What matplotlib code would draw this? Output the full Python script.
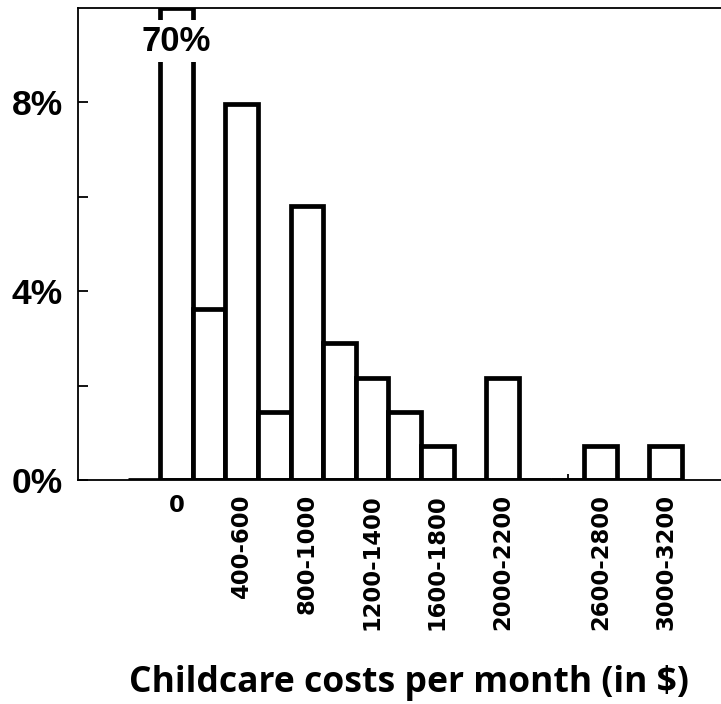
import matplotlib
matplotlib.use("Agg")
import matplotlib.pyplot as plt
import numpy as np

# Data (percent of respondents per bin)
bins = ["0", "1-400", "400-600", "600-800", "800-1000", "1000-1200", "1200-1400",
        "1400-1600", "1600-1800", "1800-2000", "2000-2200", "2200-2400",
        "2400-2600", "2600-2800", "2800-3000", "3000-3200"]
percent = [70.0, 3.62, 7.97, 1.45, 5.8, 2.9, 2.17, 1.45, 0.72, 0.0, 2.17,
           0.0, 0.0, 0.72, 0.0, 0.72]
shown_labels = ["0", "400-600", "800-1000", "1200-1400", "1600-1800",
                "2000-2200", "2600-2800", "3000-3200"]
yticks = [0, 4, 8]
ytick_labels = ["0%", "4%", "8%"]
ymax = 10
xlabel = "Childcare costs per month (in $)"

fig = plt.figure(figsize=(7.21, 7.04), dpi=100)
ax = fig.add_axes([78/721, 1-480/704, 1-78/721, (480-8)/704])

x = np.arange(len(bins))
heights = np.minimum(np.array(percent), ymax)
ax.bar(x, heights, width=1.0, facecolor="white", edgecolor="black",
       linewidth=3.4, zorder=3, clip_on=True)
ax.hlines(0, -1.5, len(bins) - 0.5, color="black", linewidth=3.4, zorder=4)

# clipped bar label
ax.text(0, 9.3, f"{percent[0]:.0f}%", ha="center", va="center",
        fontsize=25, fontweight="bold", family="Liberation Sans",
        bbox=dict(facecolor="white", edgecolor="none", pad=3), zorder=5)

ax.set_xlim(-3.02, 16.7)
ax.set_ylim(0, ymax)

ax.spines["right"].set_visible(False)
for s in ["top", "left", "bottom"]:
    ax.spines[s].set_linewidth(1.3)

# y ticks
ax.set_yticks(yticks)
ax.set_yticklabels(ytick_labels, fontsize=25.5, fontweight="bold", family="Liberation Sans")
ax.set_yticks([2, 6], minor=True)
ax.tick_params(axis="y", which="both", direction="in", length=7, width=1.3, pad=11)

# x ticks: labels at chosen bins, small tick marks at 500/1500/2500
label_pos = [bins.index(l) for l in shown_labels]
ax.set_xticks(label_pos)
ax.set_xticklabels(shown_labels, fontsize=16.3, fontweight="bold", family="DejaVu Sans")
for lab in ax.get_xticklabels():
    if lab.get_text() != "0":
        lab.set_rotation(90)
ax.tick_params(axis="x", which="major", length=0, pad=10)
ax.set_xticks([bins.index("400-600"), bins.index("1400-1600"), bins.index("2400-2600")], minor=True)
ax.tick_params(axis="x", which="minor", direction="in", length=4, width=1.3)

fig.text(409/721, 1-683/704, xlabel, ha="center", va="center",
         fontsize=25.6, fontweight="bold", family="Open Sans")

fig.savefig("out.png", dpi=100)
